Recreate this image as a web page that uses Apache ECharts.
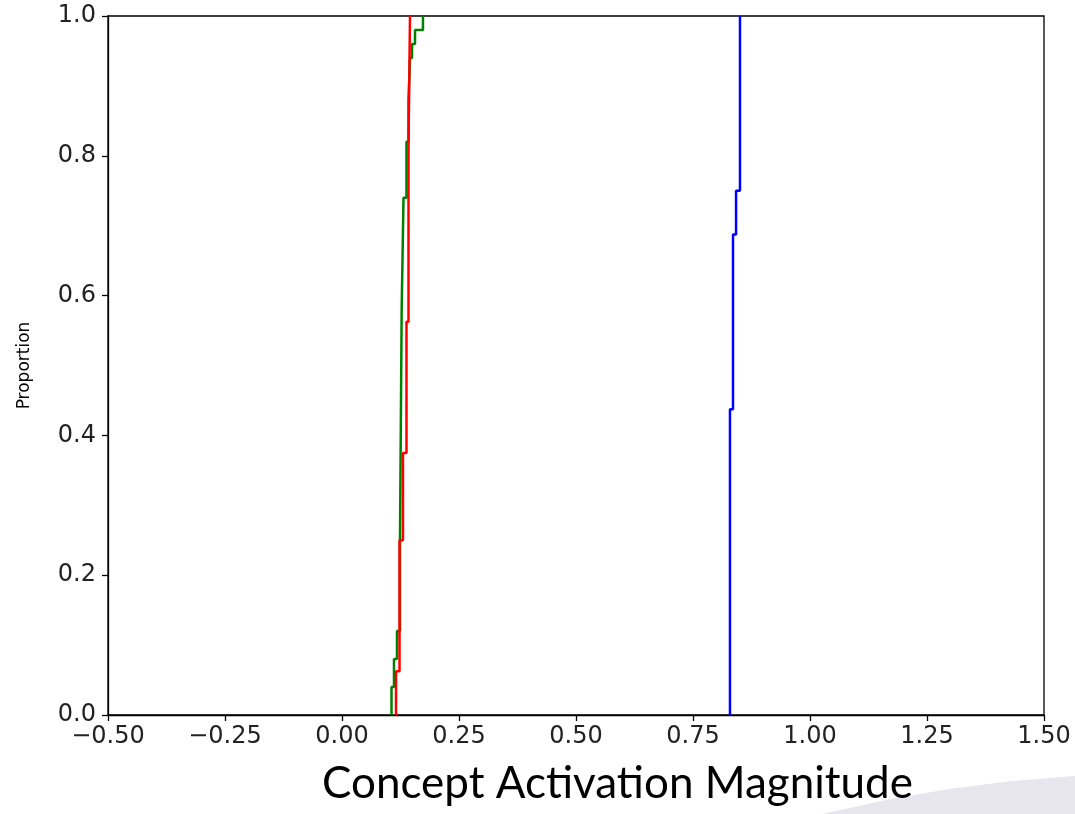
<!DOCTYPE html>
<html lang="en">
<head>
    <meta charset="utf-8">
    <title>ECDF</title>
    <script src="https://cdn.jsdelivr.net/npm/echarts@6/dist/echarts.min.js"></script>
    <style type="text/css">
        html, body { margin: 0; padding: 0; background: #fff; }
        #container { width: 1075px; height: 814px; }
    </style>
</head>
<body>
<div id="container"></div>
<script>
    // ecdf step points [value, cumulative proportion]
    var redSteps = [[0.1154, 0], [0.1154, 0.0625], [0.1229, 0.25], [0.1303, 0.375], [0.1378, 0.5625], [0.1421, 0.8125], [0.1453, 1.0]];
    var greenSteps = [[0.1058, 0], [0.1058, 0.04], [0.1111, 0.08], [0.1175, 0.12], [0.1239, 0.25], [0.1275, 0.58], [0.1314, 0.74], [0.1378, 0.82], [0.1421, 0.88], [0.1453, 0.94], [0.1496, 0.96], [0.156, 0.98], [0.173, 1.0]];
    var blueSteps = [[0.829, 0], [0.829, 0.4375], [0.8355, 0.6875], [0.842, 0.75], [0.8504, 1.0]];
    var xTicks = [-0.5, -0.25, 0, 0.25, 0.5, 0.75, 1.0, 1.25, 1.5];
    var yTicks = [0, 0.2, 0.4, 0.6, 0.8, 1.0];

    var dom = document.getElementById("container");
    var myChart = echarts.init(dom);
    var tickFont = 'DejaVu Sans';

    function line(name, data, color) {
        return {
            name: name,
            type: 'line',
            step: 'end',
            data: data,
            symbol: 'none',
            lineStyle: { color: color, width: 2.5 },
            itemStyle: { color: color },
            animation: false
        };
    }

    var option = {
        animation: false,
        grid: {
            left: 108, right: 31, top: 16, bottom: 99,
            show: true, borderColor: '#000', borderWidth: 1.3, backgroundColor: 'transparent'
        },
        title: {
            text: 'Concept Activation Magnitude',
            left: 317, top: 757,
            textStyle: { fontFamily: 'Lato', fontWeight: 'normal', fontSize: 44, color: '#000' }
        },
        xAxis: {
            type: 'value',
            min: xTicks[0], max: xTicks[xTicks.length - 1], interval: 0.25,
            splitLine: { show: false },
            axisLine: { onZero: false, lineStyle: { color: '#000', width: 1.3 } },
            axisTick: { show: true, length: 6, lineStyle: { color: '#000', width: 1.3 } },
            axisLabel: {
                margin: 10, color: '#222', fontFamily: tickFont, fontSize: 24,
                formatter: function (v) { return (v < 0 ? '\u2212' : '') + Math.abs(v).toFixed(2); }
            }
        },
        yAxis: {
            type: 'value',
            min: yTicks[0], max: yTicks[yTicks.length - 1], interval: 0.2,
            name: 'Proportion', nameLocation: 'middle', nameGap: 75,
            nameTextStyle: { fontFamily: tickFont, fontSize: 17, color: '#000' },
            splitLine: { show: false },
            axisLine: { show: true, onZero: false, lineStyle: { color: '#000', width: 1.3 } },
            axisTick: { show: true, length: 6, lineStyle: { color: '#000', width: 1.3 } },
            axisLabel: {
                margin: 12, color: '#222', fontFamily: tickFont, fontSize: 24,
                formatter: function (v) { return v.toFixed(1); }
            }
        },
        graphic: [{
            // grey swoosh in the lower right corner of the slide
            type: 'polygon',
            silent: true,
            z: -1,
            shape: { points: [[822, 814], [886, 800], [949, 789], [1012, 781], [1075, 776], [1075, 814]] },
            style: { fill: '#e6e6ec' }
        }],
        series: [
            line('green', greenSteps, '#008000'),
            line('red', redSteps, '#ff0000'),
            line('blue', blueSteps, '#0000ff')
        ]
    };
    myChart.setOption(option, true);
</script>
</body>
</html>
